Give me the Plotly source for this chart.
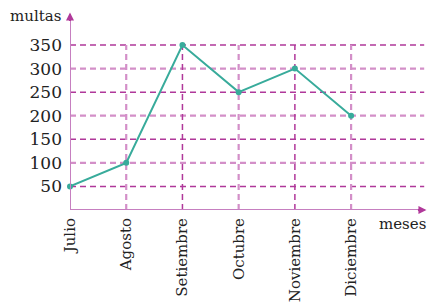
import plotly.graph_objects as go

months = ["Julio", "Agosto", "Setiembre", "Octubre", "Noviembre", "Diciembre"]
multas = [50, 100, 350, 250, 300, 200]
y_ticks = [50, 100, 150, 200, 250, 300, 350]

xi = list(range(len(months)))
dark = "#b0389a"
light = "#d38fc8"
axis_col = "#c67fc0"
head_col = "#b0389a"
teal = "#38ab9b"
font = "DejaVu Serif"

W, H = 430, 303
ml, mr, mt, mb = 70, 3, 12, 93
pw, ph = W - ml - mr, H - mt - mb
XMAX, YMAX = 6.35, 420

fig = go.Figure()
fig.add_trace(go.Scatter(x=xi, y=multas, mode="lines+markers",
                         line=dict(color=teal, width=2),
                         marker=dict(color=teal, size=6),
                         cliponaxis=False, showlegend=False))

shapes = []
for i, v in enumerate(y_ticks):
    c = dark if i % 2 == 0 else light
    w = 1.5 if i % 2 == 0 else 2.2
    shapes.append(dict(type="line", xref="x", yref="y", x0=0, x1=6.3, y0=v, y1=v,
                       line=dict(color=c, width=w, dash="6px,4px"), layer="below"))
for k in xi[1:]:
    c = light if k % 2 == 1 else dark
    w = 2.2 if k % 2 == 1 else 1.5
    shapes.append(dict(type="line", xref="x", yref="y", x0=k, x1=k, y0=0, y1=max(y_ticks),
                       line=dict(color=c, width=w, dash="6px,4px"), layer="below"))
# axis lines
shapes.append(dict(type="line", xref="x", yref="y", x0=0, x1=XMAX - 0.05, y0=0, y1=0,
                   line=dict(color=axis_col, width=2)))
shapes.append(dict(type="line", xref="x", yref="y", x0=0, x1=0, y0=0, y1=YMAX - 6,
                   line=dict(color=axis_col, width=2)))

annotations = [
    dict(x=XMAX - 0.01, y=0, ax=-10, ay=0, xref="x", yref="y", axref="pixel", ayref="pixel",
         showarrow=True, arrowhead=2, arrowsize=0.8, arrowwidth=2, arrowcolor=head_col, text=""),
    dict(x=0, y=YMAX - 1, ax=0, ay=10, xref="x", yref="y", axref="pixel", ayref="pixel",
         showarrow=True, arrowhead=2, arrowsize=0.8, arrowwidth=2, arrowcolor=head_col, text=""),
]
for txt, px, py, anc in [("multas", 63, 16, "right"), ("meses", 402, 224, "center")]:
    annotations.append(dict(x=(px - ml) / pw, y=1 - (py - mt) / ph, xref="paper", yref="paper",
                            text=txt, showarrow=False, xanchor=anc, yanchor="middle",
                            font=dict(family=font, size=15, color="#222")))

fig.update_layout(
    width=W, height=H,
    margin=dict(l=ml, r=mr, t=mt, b=mb),
    paper_bgcolor="white", plot_bgcolor="white",
    shapes=shapes, annotations=annotations,
    xaxis=dict(range=[0, XMAX], tickmode="array", tickvals=xi, ticktext=months,
               tickangle=-90, showgrid=False, zeroline=False, showline=False,
               ticks="", ticklabelstandoff=4, automargin=False,
               tickfont=dict(family=font, size=15, color="#222")),
    yaxis=dict(range=[0, YMAX], tickmode="array", tickvals=y_ticks,
               ticktext=[str(v) for v in y_ticks],
               showgrid=False, zeroline=False, showline=False, ticks="",
               ticklabelstandoff=7, automargin=False,
               tickfont=dict(family=font, size=17, color="#222")),
)

fig.write_html("out.html", config={"displayModeBar": False},
               post_script="document.body.style.margin='0';")
